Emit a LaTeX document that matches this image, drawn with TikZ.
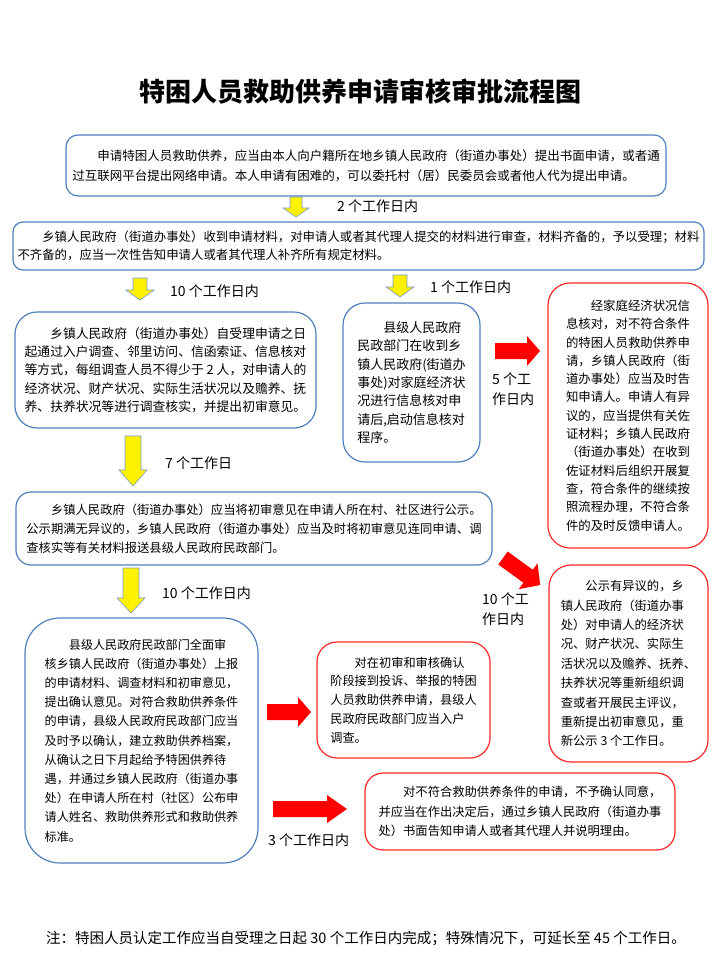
\documentclass[tikz,border=0pt]{standalone}
\usepackage{fontspec}
\setmainfont{Noto Sans CJK SC}
\definecolor{boxblue}{RGB}{79,129,189}
\definecolor{boxred}{RGB}{255,40,40}
\tikzset{
  box/.style={rounded corners=#1, line width=1.2pt, align=left, inner sep=0pt, fill=white},
  bluebox/.style={box=#1, draw=boxblue},
  redbox/.style={box=#1, draw=boxred},
  lbl/.style={font=\fontsize{14}{20}\selectfont, inner sep=0pt, align=left},
  yarrow/.style={fill=yellow, draw=boxblue!80, line width=0.6pt},
  rarrow/.style={fill=red},
  pics/downarrow/.style n args={4}{code={
    \path[yarrow] (-#3,0) -- (#3,0) -- (#3,#1-#2) -- (#4,#1-#2) -- (0,#1) -- (-#4,#1-#2) -- (-#3,#1-#2) -- cycle;
  }},
  pics/rightarrow/.style n args={4}{code={
    \path[rarrow] (0,-#3) -- (#1-#2,-#3) -- (#1-#2,-#4) -- (#1,0) -- (#1-#2,#4) -- (#1-#2,#3) -- (0,#3) -- cycle;
  }},
}
\newcommand{\bodyf}[2]{\fontsize{#1}{#2}\selectfont}
\newcommand{\ind}{\hspace*{2em}}
\begin{document}
\begin{tikzpicture}[x=1pt,y=-1pt]
\useasboundingbox[fill=white] (0,0) rectangle (718,974);

\node[font=\fontsize{26}{30}\selectfont\bfseries, inner sep=0pt] (title) at (360,92) {特困人员救助供养申请审核审批流程图};

\node[bluebox=12, minimum width=600pt, minimum height=61pt, font=\bodyf{12.5}{20}] (b1) at (366,165.5)
{\ind 申请特困人员救助供养，应当由本人向户籍所在地乡镇人民政府（街道办事处）提出书面申请，或者通\\
过互联网平台提出网络申请。本人申请有困难的，可以委托村（居）民委员会或者他人代为提出申请。};

\coordinate (a1) at (296,197);
\pic at (a1) {downarrow={20}{9}{6}{13}};
\node[lbl, anchor=west] (l1) at (337,206) {2 个工作日内};

\node[bluebox=10, minimum width=691pt, minimum height=48pt, font=\bodyf{12.4}{18.5}] (b2) at (358.5,246)
{\ind 乡镇人民政府（街道办事处）收到申请材料，对申请人或者其代理人提交的材料进行审查，材料齐备的，予以受理；材料\\
不齐备的，应当一次性告知申请人或者其代理人补齐所有规定材料。};

\coordinate (a2) at (140,278);
\pic at (a2) {downarrow={22}{10}{7}{14}};
\node[lbl, anchor=west] (l2) at (170,291) {10 个工作日内};

\coordinate (a3) at (400,275);
\pic at (a3) {downarrow={22}{10}{7}{14}};
\node[lbl, anchor=west] (l3) at (430,287) {1 个工作日内};

\node[bluebox=22, minimum width=301pt, minimum height=116pt, font=\bodyf{12.8}{18.3}] (b3) at (165.5,370)
{\ind 乡镇人民政府（街道办事处）自受理申请之日\\
起通过入户调查、邻里访问、信函索证、信息核对\\
等方式，每组调查人员不得少于 2 人，对申请人的\\
经济状况、财产状况、实际生活状况以及赡养、抚\\
养、扶养状况等进行调查核实，并提出初审意见。};

\node[bluebox=22, minimum width=137pt, minimum height=159pt, font=\bodyf{13}{18.3}] (b4) at (411.5,382.5)
{\ind 县级人民政府\\
民政部门在收到乡\\
镇人民政府(街道办\\
事处)对家庭经济状\\
况进行信息核对申\\
请后,启动信息核对\\
程序。};

\coordinate (r1) at (495,351);
\pic at (r1) {rightarrow={45}{13}{8}{15}};
\node[lbl, anchor=north west] (l4) at (492,373) {5 个工\\作日内};

\node[redbox=22, minimum width=160pt, minimum height=265pt, font=\bodyf{12.4}{18.3}] (b5) at (628,415.5)
{\ind 经家庭经济状况信\\
息核对，对不符合条件\\
的特困人员救助供养申\\
请，乡镇人民政府（街\\
道办事处）应当及时告\\
知申请人。申请人有异\\
议的，应当提供有关佐\\
证材料；乡镇人民政府\\
（街道办事处）在收到\\
佐证材料后组织开展复\\
查，符合条件的继续按\\
照流程办理，不符合条\\
件的及时反馈申请人。};

\coordinate (a4) at (133,436);
\pic at (a4) {downarrow={50}{16}{8}{14}};
\node[lbl, anchor=west] (l5) at (165,463) {7 个工作日};

\node[bluebox=15, minimum width=476pt, minimum height=73pt, font=\bodyf{12.3}{18.8}] (b6) at (254,528.5)
{\ind 乡镇人民政府（街道办事处）应当将初审意见在申请人所在村、社区进行公示。\\
公示期满无异议的，乡镇人民政府（街道办事处）应当及时将初审意见连同申请、调\\
查核实等有关材料报送县级人民政府民政部门。};

\coordinate (r2) at (503,558);
\pic[rotate=-36] at (r2) {rightarrow={46}{15}{8}{16}};
\node[lbl, anchor=north west] (l6) at (482,593) {10 个工\\作日内};

\node[redbox=22, minimum width=159pt, minimum height=197pt, font=\bodyf{12.3}{19.4}] (b7) at (628.5,663.5)
{\ind 公示有异议的，乡\\
镇人民政府（街道办事\\
处）对申请人的经济状\\
况、财产状况、实际生\\
活状况以及赡养、抚养、\\
扶养状况等重新组织调\\
查或者开展民主评议，\\
重新提出初审意见，重\\
新公示 3 个工作日。};

\coordinate (a5) at (131,568);
\pic at (a5) {downarrow={45}{15}{8}{14}};
\node[lbl, anchor=west] (l7) at (162,593) {10 个工作日内};

\node[bluebox=35, minimum width=233pt, minimum height=245pt, font=\bodyf{12.1}{19.2}] (b8) at (141.5,740.5)
{\ind 县级人民政府民政部门全面审\\
核乡镇人民政府（街道办事处）上报\\
的申请材料、调查材料和初审意见，\\
提出确认意见。对符合救助供养条件\\
的申请，县级人民政府民政部门应当\\
及时予以确认，建立救助供养档案，\\
从确认之日下月起给予特困供养待\\
遇，并通过乡镇人民政府（街道办事\\
处）在申请人所在村（社区）公布申\\
请人姓名、救助供养形式和救助供养\\
标准。};

\coordinate (r3) at (267,712);
\pic at (r3) {rightarrow={44}{13}{8}{15}};

\node[redbox=20, minimum width=173pt, minimum height=116pt, font=\bodyf{12.2}{18.8}] (b9) at (403.5,700)
{\ind 对在初审和审核确认\\
阶段接到投诉、举报的特困\\
人员救助供养申请，县级人\\
民政府民政部门应当入户\\
调查。};

\coordinate (r4) at (273,809);
\pic at (r4) {rightarrow={74}{20}{8}{14}};
\node[lbl, anchor=west] (l8) at (268,840) {3 个工作日内};

\node[redbox=18, minimum width=310pt, minimum height=77pt, font=\bodyf{12.3}{19.5}] (b10) at (520,811.5)
{\ind 对不符合救助供养条件的申请，不予确认同意，\\
并应当在作出决定后，通过乡镇人民政府（街道办事\\
处）书面告知申请人或者其代理人并说明理由。};

\node[font=\fontsize{14.5}{18}\selectfont, inner sep=0pt] (note) at (366,938) {注：特困人员认定工作应当自受理之日起 30 个工作日内完成；特殊情况下，可延长至 45 个工作日。};
\end{tikzpicture}
\end{document}
